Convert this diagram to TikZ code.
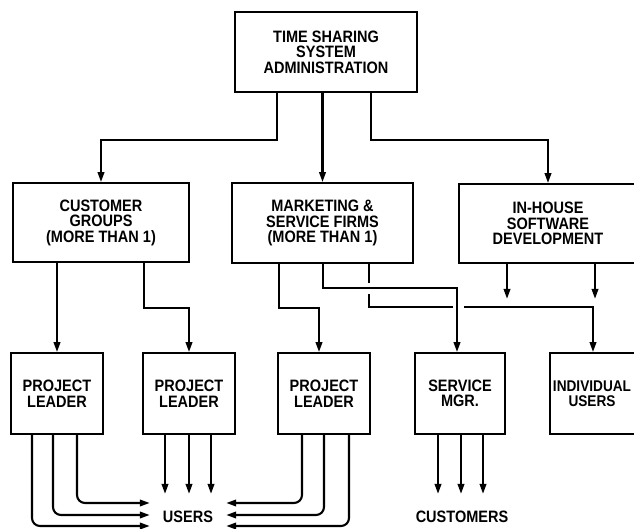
\documentclass[tikz,border=0pt]{standalone}
\usepackage{fontspec}
\setmainfont{Liberation Sans}[FakeStretch=0.88]
\usetikzlibrary{arrows.meta,calc}
\begin{document}
\begin{tikzpicture}[x=1pt,y=-1pt,
  box/.style={draw,line width=1.8pt,inner sep=0pt,align=center,font=\fontsize{16.5}{15.5}\selectfont\bfseries},
  lnk/.style={line width=2.1pt},
  arr/.style={lnk,-{Triangle[length=10pt,width=6.5pt]}},
  rc/.style={rounded corners=8pt},
  lbl/.style={font=\fontsize{16.5}{15.5}\selectfont\bfseries,inner sep=0pt}]
\useasboundingbox (0,0) rectangle (634,529);
\clip (0,0) rectangle (634,529);
% boxes
\node[box,minimum width=182pt,minimum height=80pt] (top) at (326,52) {TIME SHARING\\SYSTEM\\ADMINISTRATION};
\node[box,minimum width=176pt,minimum height=79pt] (cg) at (101,222.5) {CUSTOMER\\GROUPS\\(MORE THAN 1)};
\node[box,minimum width=181pt,minimum height=80pt] (mk) at (322.5,223) {MARKETING \&\\SERVICE FIRMS\\(MORE THAN 1)};
\node[box,minimum width=178pt,minimum height=79pt] (ih) at (548,223.5) {IN-HOUSE\\SOFTWARE\\DEVELOPMENT};
\node[box,minimum width=92pt,minimum height=81pt] (pl1) at (57,393.5) {PROJECT\\LEADER};
\node[box,minimum width=92pt,minimum height=81pt] (pl2) at (189,393.5) {PROJECT\\LEADER};
\node[box,minimum width=92pt,minimum height=81pt] (pl3) at (324,393.5) {PROJECT\\LEADER};
\node[box,minimum width=90pt,minimum height=81pt] (sm) at (460,393.5) {SERVICE\\MGR.};
\node[box,minimum width=90pt,minimum height=81pt] (iu) at (595,393.5) {};
\node[lbl,align=center,font=\fontsize{15.5}{15.5}\selectfont\bfseries] (iut) at (592,393.5) {INDIVIDUAL\\USERS};
\node[lbl,minimum width=76pt] (users) at (188,517) {USERS};
\node[lbl] (cust) at (462,517) {CUSTOMERS};
% top level
\draw[arr] ($(top.south)+(-49,0)$) -- ++(0,47) -| (cg.north);
\draw[arr] (top.south -| mk.north) -- (mk.north);
\draw[arr] ($(top.south)+(45,0)$) -- ++(0,47) -| (ih.north);
% customer groups
\draw[arr] (cg.south -| pl1.north) -- (pl1.north);
\draw[arr] ($(cg.south)+(43,0)$) -- ++(0,45) -| (pl2.north);
% marketing
\draw[arr] ($(mk.south)+(-43.5,0)$) -- ++(0,44) -| ($(pl3.north)+(-5,0)$);
\draw[arr] ($(mk.south)+(0.5,0)$) -- ++(0,24) -| ($(sm.north)+(-3,0)$);
\coordinate (j1) at ($(mk.south)+(46.5,19)$);
\coordinate (j2) at ($(mk.south)+(46.5,30)$);
\draw[lnk] ($(mk.south)+(46.5,0)$) -- (j1);
\draw[lnk] (j2) |- ($(sm.north)+(-7,-45)$);
\draw[arr] ($(sm.north)+(4,-45)$) -| ($(iu.north)+(-2,0)$);
% in-house
\draw[arr] ($(ih.south)+(-41,0)$) -- ++(0,35);
\draw[arr] ($(ih.south)+(47,0)$) -- ++(0,35);
% project leader 1
\draw[arr,rc] ($(pl1.south)+(20,0)$) |- ($(users.west)+(0,-14)$);
\draw[arr,rc] ($(pl1.south)+(-4,0)$) |- ($(users.west)+(0,-2)$);
\draw[arr,rc] ($(pl1.south)+(-25,0)$) |- ($(users.west)+(0,9)$);
% project leader 2
\draw[arr] ($(pl2.south)+(-24,0)$) -- ++(0,59);
\draw[arr] (pl2.south) -- ++(0,59);
\draw[arr] ($(pl2.south)+(22,0)$) -- ++(0,59);
% project leader 3
\draw[arr,rc] ($(pl3.south)+(-22,0)$) |- ($(users.east)+(0,-14)$);
\draw[arr,rc] (pl3.south) |- ($(users.east)+(0,-2)$);
\draw[arr,rc] ($(pl3.south)+(25,0)$) |- ($(users.east)+(0,9)$);
% service mgr
\draw[arr] ($(sm.south)+(-22,0)$) -- ++(0,59);
\draw[arr] ($(sm.south)+(1,0)$) -- ++(0,59);
\draw[arr] ($(sm.south)+(23,0)$) -- ++(0,59);
\end{tikzpicture}
\end{document}
